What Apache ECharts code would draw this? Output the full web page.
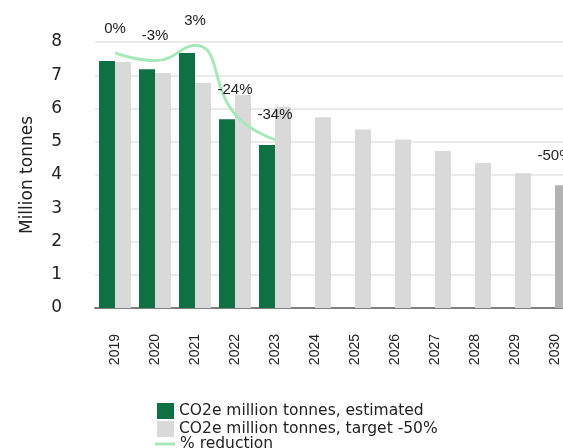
<!DOCTYPE html>
<html>
<head>
<meta charset="utf-8">
<script src="https://cdn.jsdelivr.net/npm/echarts@6/dist/echarts.min.js"></script>
<style>
html,body{margin:0;padding:0;background:#fff;overflow:hidden;}
#c{width:563px;height:448px;}
</style>
</head>
<body>
<div id="c"></div>
<script>
var years = ['2019','2020','2021','2022','2023','2024','2025','2026','2027','2028','2029','2030'];
var estimated = [7.43, 7.18, 7.67, 5.68, 4.90, null, null, null, null, null, null, null];
var target = [7.40, 7.07, 6.77, 6.41, 6.05, 5.74, 5.37, 5.07, 4.72, 4.36, 4.05, 3.69];
var reduction = [0, -0.03, 0.03, -0.24, -0.34, null, null, null, null, null, null, -0.50];
var yTicks = [0, 1, 2, 3, 4, 5, 6, 7, 8];

var GREEN = '#0e7043', GRAY = '#d9d9d9', GRAY30 = '#b2b2b2', LINE = '#a6e8b8';

var targetData = target.map(function (v, i) {
  return i === target.length - 1 ? { value: v, itemStyle: { color: GRAY30 } } : v;
});

var chart = echarts.init(document.getElementById('c'), null, { renderer: 'canvas' });
chart.setOption({
  animation: false,
  grid: { left: 95, top: 42, width: 480, height: 266, containLabel: false, outerBoundsMode: 'none' },
  legend: [
    {
      orient: 'vertical', left: 152, top: 398, itemWidth: 17, itemHeight: 16, itemGap: 2,
      itemTextGap: 10, icon: 'rect',
      data: ['CO2e million tonnes, estimated', 'CO2e million tonnes, target -50%'],
      textStyle: { fontFamily: 'DejaVu Sans', fontSize: 15.5, color: '#222' }
    },
    {
      orient: 'vertical', left: 150, top: 431, itemWidth: 20, itemHeight: 3, itemTextGap: 9,
      icon: 'rect', data: ['% reduction'],
      textStyle: { fontFamily: 'DejaVu Sans', fontSize: 15.5, color: '#222' }
    }
  ],
  xAxis: {
    type: 'category', data: years,
    axisLine: { lineStyle: { color: '#7f7f7f', width: 2 } },
    axisTick: { show: false },
    axisLabel: { rotate: 90, margin: 26, fontFamily: 'Liberation Sans', fontSize: 14, color: '#222',
      interval: 0, hideOverlap: false, overflow: 'none' }
  },
  yAxis: [
    {
      type: 'value', min: yTicks[0], max: yTicks[yTicks.length - 1], interval: 1,
      name: 'Million tonnes', nameLocation: 'middle', nameGap: 59,
      nameTextStyle: { fontFamily: 'DejaVu Sans', fontSize: 17, color: '#222' },
      axisLine: { show: false }, axisTick: { show: false },
      axisLabel: { margin: 33, fontFamily: 'DejaVu Sans', fontSize: 17, color: '#222' },
      splitLine: { lineStyle: { color: '#e3e3e3', width: 1.5 } }
    },
    { type: 'value', min: -1, max: 0.043, show: false, splitLine: { show: false } }
  ],
  series: [
    {
      name: 'CO2e million tonnes, estimated', type: 'bar', data: estimated,
      barGap: '0%', barCategoryGap: '20%', itemStyle: { color: GREEN }
    },
    {
      name: 'CO2e million tonnes, target -50%', type: 'bar', data: targetData,
      barGap: '0%', barCategoryGap: '20%', itemStyle: { color: GRAY }
    },
    {
      name: '% reduction', type: 'line', yAxisIndex: 1, data: reduction,
      smooth: 0.5, symbol: 'circle', symbolSize: 0, showSymbol: true, connectNulls: false,
      itemStyle: { color: LINE },
      lineStyle: { color: LINE, width: 3 },
      label: {
        show: true, position: 'top', distance: 17,
        formatter: function (p) { return Math.round(p.value * 100) + '%'; },
        fontFamily: 'Liberation Sans', fontSize: 15, color: '#222'
      },
      z: 5
    }
  ]
});
</script>
</body>
</html>
